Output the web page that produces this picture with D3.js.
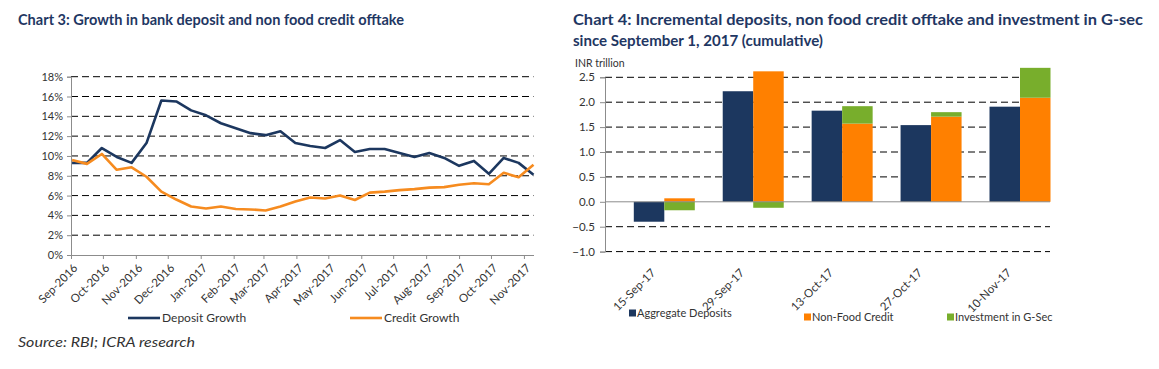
<!DOCTYPE html>
<html>
<head>
<meta charset="utf-8">
<script src="https://cdn.jsdelivr.net/npm/d3@7"></script>
<style>
  html, body { margin: 0; padding: 0; background: #ffffff; }
  svg { display: block; font-family: Lato, "Open Sans", sans-serif; }
</style>
</head>
<body>
<svg id="chart" width="1159" height="369"></svg>
<script>
// ---------- Chart 3 data ----------
const fortnightDates = [
  "2016-09-02","2016-09-16","2016-09-30","2016-10-14","2016-10-28","2016-11-11",
  "2016-11-25","2016-12-09","2016-12-23","2017-01-06","2017-01-20","2017-02-03",
  "2017-02-17","2017-03-03","2017-03-17","2017-03-31","2017-04-14","2017-04-28",
  "2017-05-12","2017-05-26","2017-06-09","2017-06-23","2017-07-07","2017-07-21",
  "2017-08-04","2017-08-18","2017-09-01","2017-09-15","2017-09-29","2017-10-13",
  "2017-10-27","2017-11-10"
];
const depositGrowth = [9.3, 9.3, 10.8, 9.9, 9.3, 11.3, 15.6, 15.5, 14.6, 14.1, 13.3, 12.8,
  12.3, 12.1, 12.5, 11.3, 11.0, 10.8, 11.6, 10.4, 10.7, 10.7, 10.3, 9.9,
  10.3, 9.8, 9.0, 9.5, 8.2, 9.8, 9.3, 8.1];
const creditGrowth = [9.6, 9.2, 10.2, 8.6, 8.85, 7.9, 6.4, 5.6, 4.9, 4.7, 4.9, 4.65,
  4.6, 4.5, 4.9, 5.4, 5.8, 5.7, 6.0, 5.55, 6.3, 6.4, 6.55, 6.65,
  6.8, 6.85, 7.1, 7.25, 7.15, 8.3, 7.85, 9.1];
const monthTicks = ["2016-09-01","2016-10-01","2016-11-01","2016-12-01","2017-01-01","2017-02-01",
  "2017-03-01","2017-04-01","2017-05-01","2017-06-01","2017-07-01","2017-08-01",
  "2017-09-01","2017-10-01","2017-11-01"];
const monthTickLabels = ["Sep-2016","Oct-2016","Nov-2016","Dec-2016","Jan-2017","Feb-2017",
  "Mar-2017","Apr-2017","May-2017","Jun-2017","Jul-2017","Aug-2017","Sep-2017","Oct-2017","Nov-2017"];
const pctTicks = [0, 2, 4, 6, 8, 10, 12, 14, 16, 18];

// ---------- Chart 4 data ----------
const weekCategories = ["15-Sep-17","29-Sep-17","13-Oct-17","27-Oct-17","10-Nov-17"];
const aggregateDeposits = [-0.40, 2.22, 1.83, 1.54, 1.91];
const nonFoodCredit = [0.07, 2.62, 1.57, 1.71, 2.09];
const investmentGSec = [-0.17, -0.12, 0.35, 0.09, 0.60];
const inrTicks = [-1.0, -0.5, 0.0, 0.5, 1.0, 1.5, 2.0, 2.5];

// ---------- styles ----------
const NAVY = "#1c375f", ORANGE = "#ff8000", LINE_ORANGE = "#f68b1f", GREEN = "#78ae2c";
const TITLE = "#1f3763", TEXT = "#333333", AXIS = "#8c8c8c";

const svg = d3.select("#chart");
const parse = d3.timeParse("%Y-%m-%d");

// ======================= Chart 3 =======================
const L = {left: 71, right: 533.5, top: 76.7, bottom: 255};
const xT = d3.scaleTime()
  .domain([parse("2016-09-01"), parse("2017-11-10")])
  .range([L.left, L.right]);
const yP = d3.scaleLinear().domain([0, 18]).range([L.bottom, L.top]);

svg.append("text").attr("x", 18).attr("y", 25)
  .attr("font-size", 14.5).attr("font-weight", "bold").attr("fill", TITLE)
  .attr("textLength", 386).attr("lengthAdjust", "spacingAndGlyphs")
  .text("Chart 3: Growth in bank deposit and non food credit offtake");

const gL = svg.append("g");
// gridlines
gL.selectAll("line.grid").data(pctTicks.filter(d => d > 0)).join("line")
  .attr("x1", L.left).attr("x2", L.right)
  .attr("y1", d => yP(d)).attr("y2", d => yP(d))
  .attr("stroke", "#000").attr("stroke-width", 1).attr("stroke-dasharray", "7,4");

// y axis
const yAxisL = gL.append("g").attr("transform", `translate(${L.left},0)`)
  .call(d3.axisLeft(yP).tickValues(pctTicks).tickFormat(d => d + "%").tickSize(4).tickPadding(4));
yAxisL.select(".domain").attr("stroke", AXIS);
yAxisL.selectAll(".tick line").attr("stroke", AXIS);
yAxisL.selectAll("text").attr("font-size", 11).attr("fill", TEXT).attr("font-family", "Lato, sans-serif");

// x axis
const xAxisL = gL.append("g").attr("transform", `translate(0,${L.bottom})`)
  .call(d3.axisBottom(xT).tickValues(monthTicks.map(parse))
    .tickFormat((d, i) => monthTickLabels[i]).tickSize(4).tickSizeOuter(0));
xAxisL.select(".domain").attr("stroke", AXIS);
xAxisL.selectAll(".tick line").attr("stroke", AXIS);
xAxisL.selectAll("text")
  .attr("font-size", 11.5).attr("fill", TEXT).attr("font-family", "Lato, sans-serif")
  .attr("text-anchor", "end")
  .attr("transform", "translate(4,11) rotate(-45)")
  .attr("dy", "0.35em").attr("y", 0).attr("x", 0);

// lines
const lineGen = vals => d3.line()
  .x((d, i) => xT(parse(fortnightDates[i])))
  .y(d => yP(d))(vals);
gL.append("path").attr("d", lineGen(depositGrowth))
  .attr("fill", "none").attr("stroke", NAVY).attr("stroke-width", 2.6).attr("stroke-linejoin", "round");
gL.append("path").attr("d", lineGen(creditGrowth))
  .attr("fill", "none").attr("stroke", LINE_ORANGE).attr("stroke-width", 2.6).attr("stroke-linejoin", "round");

// legend
const legL = [
  {label: "Deposit Growth", color: NAVY, x: 128},
  {label: "Credit Growth", color: LINE_ORANGE, x: 350}
];
legL.forEach(d => {
  gL.append("line").attr("x1", d.x).attr("x2", d.x + 32).attr("y1", 318).attr("y2", 318)
    .attr("stroke", d.color).attr("stroke-width", 2.6);
  gL.append("text").attr("x", d.x + 34).attr("y", 318).attr("dy", "0.35em")
    .attr("font-size", 12).attr("fill", TEXT).text(d.label);
});

svg.append("text").attr("x", 18).attr("y", 347)
  .attr("font-size", 14).attr("font-style", "italic").attr("fill", TEXT)
  .attr("textLength", 177).attr("lengthAdjust", "spacingAndGlyphs")
  .text("Source: RBI; ICRA research");

// ======================= Chart 4 =======================
const R = {left: 605, right: 1050, top: 77.3, bottom: 251.6};
const yR = d3.scaleLinear().domain([-1, 2.5]).range([R.bottom, R.top]);
const xR = d3.scalePoint().domain(weekCategories).range([664.3, 1020]);
const barW = 30.5;

svg.append("text").attr("x", 573).attr("y", 25)
  .attr("font-size", 14.5).attr("font-weight", "bold").attr("fill", TITLE)
  .attr("textLength", 570).attr("lengthAdjust", "spacingAndGlyphs")
  .text("Chart 4: Incremental deposits, non food credit offtake and investment in G-sec");
svg.append("text").attr("x", 573).attr("y", 46)
  .attr("font-size", 14.5).attr("font-weight", "bold").attr("fill", TITLE)
  .attr("textLength", 250).attr("lengthAdjust", "spacingAndGlyphs")
  .text("since September 1, 2017 (cumulative)");
svg.append("text").attr("x", 575).attr("y", 63).attr("dy", "0.35em")
  .attr("font-size", 10.5).attr("fill", TEXT).text("INR trillion");

const gR = svg.append("g");
gR.selectAll("line.grid").data(inrTicks.filter(d => d !== 0)).join("line")
  .attr("x1", R.left).attr("x2", R.right)
  .attr("y1", d => yR(d)).attr("y2", d => yR(d))
  .attr("stroke", "#000").attr("stroke-width", 1).attr("stroke-dasharray", "7,4");

const yAxisR = gR.append("g").attr("transform", `translate(${R.left},0)`)
  .call(d3.axisLeft(yR).tickValues(inrTicks).tickFormat(d3.format(".1f")).tickSize(5).tickPadding(5));
yAxisR.select(".domain").attr("stroke", AXIS);
yAxisR.selectAll(".tick line").attr("stroke", AXIS);
yAxisR.selectAll("text").attr("font-size", 11.5).attr("fill", TEXT).attr("font-family", "Lato, sans-serif");

// bars: deposits
gR.selectAll("rect.dep").data(aggregateDeposits).join("rect")
  .attr("x", (d, i) => xR(weekCategories[i]) - barW)
  .attr("width", barW)
  .attr("y", d => yR(Math.max(0, d)))
  .attr("height", d => Math.abs(yR(d) - yR(0)))
  .attr("fill", NAVY);

// stacked credit + gsec
const stackRows = weekCategories.map((c, i) => ({cat: c, credit: nonFoodCredit[i], gsec: investmentGSec[i]}));
const stacked = d3.stack().keys(["credit", "gsec"]).offset(d3.stackOffsetDiverging)(stackRows);
const stackColors = {credit: ORANGE, gsec: GREEN};
stacked.forEach(series => {
  gR.selectAll(null).data(series).join("rect")
    .attr("x", d => xR(d.data.cat))
    .attr("width", barW)
    .attr("y", d => yR(Math.max(d[0], d[1])))
    .attr("height", d => Math.abs(yR(d[0]) - yR(d[1])))
    .attr("fill", stackColors[series.key]);
});

// zero line
gR.append("line").attr("x1", R.left).attr("x2", R.right)
  .attr("y1", yR(0)).attr("y2", yR(0)).attr("stroke", AXIS).attr("stroke-width", 1);

// category labels
gR.selectAll("text.cat").data(weekCategories).join("text")
  .attr("text-anchor", "end")
  .attr("font-size", 11.5).attr("fill", TEXT)
  .attr("transform", d => `translate(${xR(d) - 11},${R.bottom + 19}) rotate(-45)`)
  .attr("dy", "0.35em")
  .text(d => d);

// legend
const legR = [
  {label: "Aggregate Deposits", color: NAVY, x: 629, y: 313},
  {label: "Non-Food Credit", color: ORANGE, x: 804, y: 317},
  {label: "Investment in G-Sec", color: GREEN, x: 947, y: 317}
];
legR.forEach(d => {
  gR.append("rect").attr("x", d.x).attr("y", d.y - 3.5).attr("width", 7).attr("height", 7).attr("fill", d.color);
  gR.append("text").attr("x", d.x + 8).attr("y", d.y).attr("dy", "0.35em")
    .attr("font-size", 11).attr("fill", TEXT).text(d.label);
});
</script>
</body>
</html>
